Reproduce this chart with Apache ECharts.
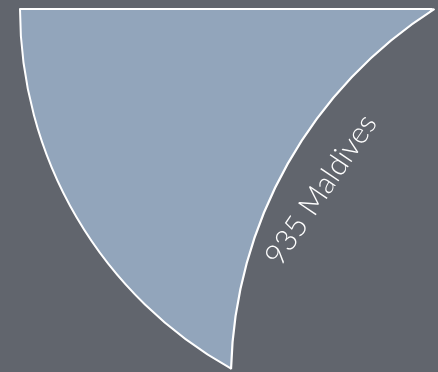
<!DOCTYPE html>
<html>
<head>
<meta charset="utf-8">
<script src="https://cdn.jsdelivr.net/npm/echarts@6/dist/echarts.min.js"></script>
<style>
html,body{margin:0;padding:0;background:#61656d;}
#chart{width:438px;height:372px;}
</style>
</head>
<body>
<div id="chart"></div>
<script>
const categories = ['Maldives'];
const values = [935];

const BG = '#61656d';
const FILL = '#92a5bb';

const items = categories.map((n, i) => ({ name: n, value: values[i] }));

const chart = echarts.init(document.getElementById('chart'), null, { renderer: 'canvas' });
chart.setOption({
  backgroundColor: BG,
  animation: false,
  series: [
    {
      type: 'pie',
      center: [432, 9],
      radius: [0, 412],
      startAngle: 240.75,
      endAngle: 180,
      clockwise: true,
      avoidLabelOverlap: false,
      silent: true,
      label: { show: false },
      labelLine: { show: false },
      itemStyle: { color: FILL, borderColor: '#ffffff', borderWidth: 2 },
      data: items
    },
    {
      type: 'pie',
      center: [671, 380],
      radius: [0, 440],
      startAngle: 90,
      silent: true,
      label: { show: false },
      labelLine: { show: false },
      itemStyle: { color: BG, borderWidth: 0 },
      data: items
    },
    {
      type: 'pie',
      center: [671, 380],
      radius: [439, 441.2],
      startAngle: 178.6,
      endAngle: 122.5,
      clockwise: true,
      avoidLabelOverlap: false,
      silent: true,
      itemStyle: { color: '#ffffff', borderWidth: 0 },
      labelLine: { show: false },
      label: {
        show: true,
        position: 'inside',
        formatter: '{c} {b}',
        color: '#ffffff',
        fontFamily: 'Lato',
        fontWeight: 300,
        fontSize: 30,
        rotate: 56
      },
      labelLayout: { x: 321, y: 190, rotate: 56, align: 'center', verticalAlign: 'middle' },
      data: items
    }
  ]
});
</script>
</body>
</html>
